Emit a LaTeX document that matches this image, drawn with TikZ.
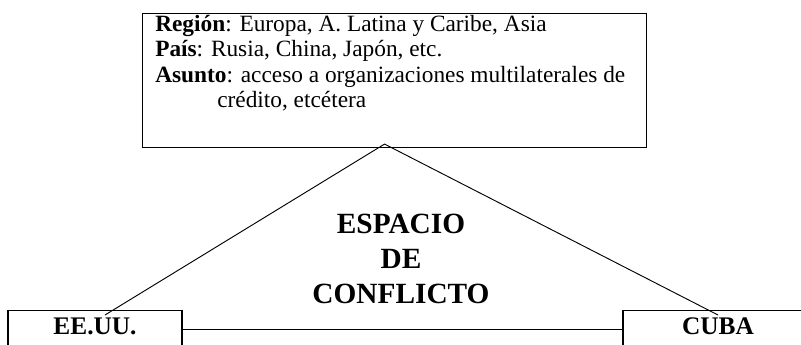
\documentclass[tikz,border=0pt]{standalone}
\usepackage{fontspec}
\setmainfont{Liberation Serif}
\usetikzlibrary{positioning}
\usetikzlibrary{calc}

\begin{document}
\begin{tikzpicture}[x=0.75pt, y=-0.75pt,
	box/.style={draw, line width=0.8pt, inner sep=0pt},
	country/.style={draw, line width=0.8pt, anchor=north, font=\fontsize{19}{22}\selectfont\bfseries, inner xsep=0pt, inner ysep=3pt, text height=15pt, text depth=20pt},
	link/.style={line width=0.7pt}]
		%page
		\path[use as bounding box, clip] (0,0) rectangle (801,344);
		
		%top box
		\node[box, anchor=north west, minimum width=378pt, minimum height=100.5pt] (info) at (142,13) {};
		\node[anchor=north west, inner sep=0pt, align=left, font=\fontsize{17.5}{19.1}\selectfont] (infotext) at ([xshift=9.75pt, yshift=-1.5pt]info.north west)
			{\textbf{Región}: Europa, A. Latina y Caribe, Asia\\
			\textbf{País}: Rusia, China, Japón, etc.\\
			\textbf{Asunto}: acceso a organizaciones multilaterales de\\
			\hspace*{46.5pt}crédito, etcétera};
		
		%countries
		\node[country, minimum width=130.5pt] (eeuu) at (95,310) {EE.UU.};
		\node[country, minimum width=142.5pt] (cuba) at (718,310) {CUBA};
		
		%middle text
		\node[align=center, font=\fontsize{22}{26}\selectfont\bfseries] (espacio) at (401,259) {ESPACIO\\DE\\CONFLICTO};
		
		%lines
		\coordinate (apex) at ($(info.south)+(-10,-4)$);
		\coordinate (eeuutop) at ($(eeuu.north)+(10,5)$);
		\coordinate (cubatop) at ($(cuba.north)+(0,5)$);
		\coordinate (basel) at ($(eeuu.north east)+(0,19)$);
		\draw[link] (eeuutop) -- (apex) -- (cubatop);
		\draw[link] (basel) -- (basel -| cuba.west);
	\end{tikzpicture}
\end{document}
